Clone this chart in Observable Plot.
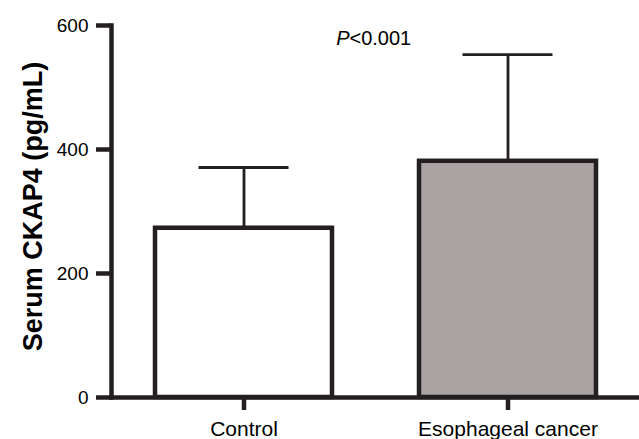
<!DOCTYPE html>
<html>
<head>
<meta charset="utf-8">
<script src="https://cdn.jsdelivr.net/npm/d3@7"></script>
<script src="https://cdn.jsdelivr.net/npm/@observablehq/plot@0.6"></script>
<style>
  html, body { margin: 0; padding: 0; background: #fff; }
  #chart svg { display: block; }
</style>
</head>
<body>
<div id="chart"></div>
<script>
// Data
const groups = ["Control", "Esophageal cancer"];
const means = [273, 381];
const upperErr = [371, 553];
const yTicks = [0, 200, 400, 600];
const yTitle = "Serum CKAP4 (pg/mL)";
const pItalic = "P";
const pRest = "<0.001";

const data = groups.map((g, i) => ({group: g, mean: means[i], upper: upperErr[i]}));

const ink = "#231f20";
const font = "'Liberation Sans', Arial, Helvetica, sans-serif";

const chart = Plot.plot({
  width: 639,
  height: 439,
  marginLeft: 111,
  marginRight: 0,
  marginTop: 25,
  marginBottom: 42,
  style: {fontFamily: font, color: "#000", background: "#fff", overflow: "visible"},
  x: {domain: groups, paddingInner: 0.33, paddingOuter: 0.165, label: null},
  y: {domain: [0, 600], label: null},
  color: {domain: groups, range: ["#ffffff", "#aba2a3"]},
  marks: [
    Plot.ruleX(data, {x: "group", y1: "mean", y2: "upper", stroke: ink, strokeWidth: 2.8}),
    Plot.tickY(data, {x: "group", y: "upper", stroke: ink, strokeWidth: 2.8, insetLeft: 43.5, insetRight: 43.5}),
    Plot.barY(data, {x: "group", y: "mean", fill: "group", stroke: ink, strokeWidth: 4.5, strokeLinejoin: "miter"}),
    Plot.frame({anchor: "left", stroke: ink, strokeWidth: 4.5, strokeLinecap: "square"}),
    Plot.frame({anchor: "bottom", stroke: ink, strokeWidth: 4.5, strokeLinecap: "square"}),
    Plot.axisY({ticks: yTicks, tickSize: 15, tickPadding: 8, stroke: ink, strokeWidth: 4.5, fontSize: 19, fill: "#000", label: null, tickFormat: d => String(d)}),
    Plot.axisX({tickSize: 13, tickPadding: 11, stroke: ink, strokeWidth: 4.5, fontSize: 21, fill: "#000", label: null}),
    Plot.text([yTitle], {frameAnchor: "left", text: d => d, rotate: -90, textAnchor: "middle", dx: -78, dy: -5, fontSize: 27, fontWeight: "bold", fill: "#000"}),
    Plot.text([pItalic], {frameAnchor: "top", text: d => d, textAnchor: "end", lineAnchor: "top", dx: -26, dy: 5, fontSize: 20, fontStyle: "italic", fill: "#000"}),
    Plot.text([pRest], {frameAnchor: "top", text: d => d, textAnchor: "start", lineAnchor: "top", dx: -26, dy: 5, fontSize: 20, fill: "#000"})
  ]
});

document.getElementById("chart").appendChild(chart);
</script>
</body>
</html>
